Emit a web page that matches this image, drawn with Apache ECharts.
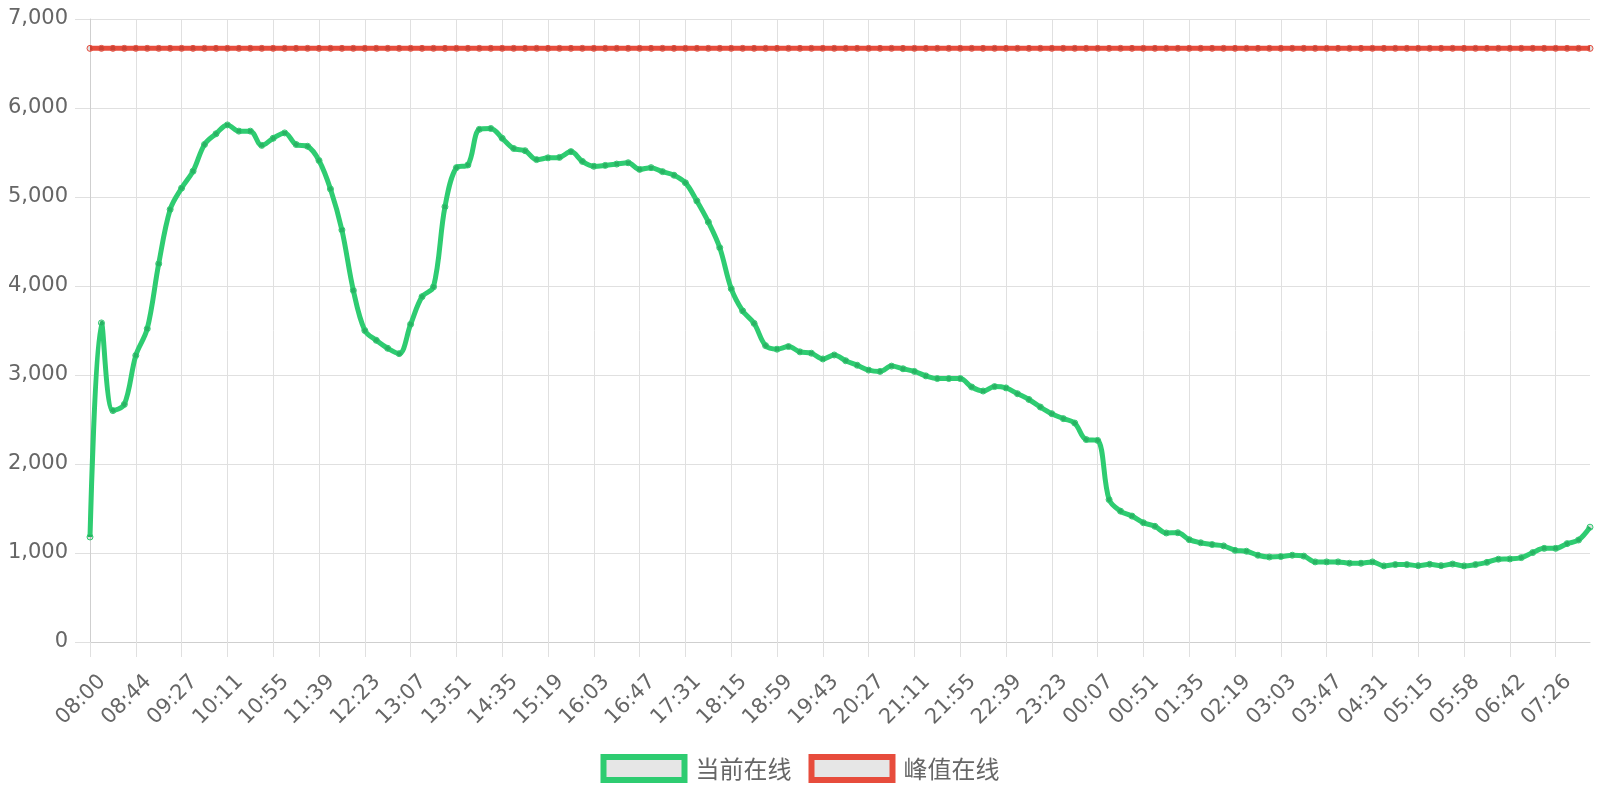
<!DOCTYPE html>
<html>
<head>
<meta charset="utf-8">
<script src="https://cdn.jsdelivr.net/npm/echarts@6/dist/echarts.min.js"></script>
<style>
html,body{margin:0;padding:0;background:#fff;}
#chart{width:1600px;height:800px;}
</style>
</head>
<body>
<div id="chart"></div>
<script>
const categories = [
'08:00','08:11','08:22','08:33','08:44','08:55','09:06','09:16','09:27','09:38','09:49','10:00',
'10:11','10:22','10:33','10:44','10:55','11:06','11:17','11:28','11:39','11:50','12:01','12:12',
'12:23','12:34','12:45','12:56','13:07','13:18','13:29','13:40','13:51','14:02','14:13','14:24',
'14:35','14:46','14:57','15:08','15:19','15:30','15:41','15:52','16:03','16:14','16:25','16:36',
'16:47','16:58','17:09','17:20','17:31','17:42','17:53','18:04','18:15','18:26','18:37','18:48',
'18:59','19:10','19:21','19:32','19:43','19:54','20:05','20:16','20:27','20:38','20:49','21:00',
'21:11','21:22','21:33','21:44','21:55','22:06','22:17','22:28','22:39','22:50','23:01','23:12',
'23:23','23:34','23:45','23:56','00:07','00:18','00:29','00:40','00:51','01:02','01:13','01:24',
'01:35','01:46','01:57','02:08','02:19','02:30','02:41','02:52','03:03','03:14','03:25','03:36',
'03:47','03:58','04:09','04:20','04:31','04:42','04:53','05:04','05:15','05:26','05:36','05:47',
'05:58','06:09','06:20','06:31','06:42','06:53','07:04','07:15','07:26','07:37','07:48','07:59'
];

const currentOnline = [
1180,3585,2600,2670,3220,3520,4250,4860,5100,5290,5590,5710,
5810,5740,5740,5580,5660,5720,5590,5570,5410,5090,4630,3950,
3500,3390,3300,3240,3570,3880,3990,4890,5330,5360,5760,5770,
5660,5545,5520,5420,5440,5445,5510,5400,5345,5355,5370,5385,
5310,5330,5285,5245,5160,4955,4720,4430,3970,3720,3580,3330,
3290,3320,3260,3245,3180,3225,3160,3110,3055,3040,3100,3070,
3040,2990,2960,2960,2960,2865,2820,2870,2855,2790,2725,2640,
2565,2510,2460,2275,2265,1600,1470,1415,1340,1300,1225,1228,
1150,1115,1095,1080,1030,1020,975,955,960,975,965,900,
900,900,885,885,900,855,870,870,858,873,858,876,
855,870,895,930,933,948,1005,1052,1052,1105,1146,1290
];

const peakOnline = [
6670,6670,6670,6670,6670,6670,6670,6670,6670,6670,6670,6670,
6670,6670,6670,6670,6670,6670,6670,6670,6670,6670,6670,6670,
6670,6670,6670,6670,6670,6670,6670,6670,6670,6670,6670,6670,
6670,6670,6670,6670,6670,6670,6670,6670,6670,6670,6670,6670,
6670,6670,6670,6670,6670,6670,6670,6670,6670,6670,6670,6670,
6670,6670,6670,6670,6670,6670,6670,6670,6670,6670,6670,6670,
6670,6670,6670,6670,6670,6670,6670,6670,6670,6670,6670,6670,
6670,6670,6670,6670,6670,6670,6670,6670,6670,6670,6670,6670,
6670,6670,6670,6670,6670,6670,6670,6670,6670,6670,6670,6670,
6670,6670,6670,6670,6670,6670,6670,6670,6670,6670,6670,6670,
6670,6670,6670,6670,6670,6670,6670,6670,6670,6670,6670,6670
];

const seriesNames = ['当前在线', '峰值在线'];
const seriesColors = ['#2ecc71', '#e74c3c'];
const yTicks = [0, 1000, 2000, 3000, 4000, 5000, 6000, 7000];

const FONT = '"DejaVu Sans", "Noto Sans CJK SC", sans-serif';
const LEGEND_FONT = '"Noto Sans CJK SC", "DejaVu Sans", sans-serif';
const GRID_COLOR = '#e0e0e0';
const AXIS_COLOR = '#cfcfcf';

function fmt(v) { return String(v).replace(/\B(?=(\d{3})+(?!\d))/g, ','); }

const chart = echarts.init(document.getElementById('chart'), null, {renderer: 'canvas'});

function mkSeries(name, data, color) {
  return {
    name: name,
    type: 'line',
    data: data,
    smooth: 0.35,
    symbol: 'circle',
    symbolSize: 6,
    showAllSymbol: true,
    lineStyle: {color: color, width: 5},
    itemStyle: {color: 'rgba(0,0,0,0.12)', borderColor: color, borderWidth: 1},
    emphasis: {disabled: true},
    animation: false
  };
}

chart.setOption({
  animation: false,
  backgroundColor: '#fff',
  grid: {left: 90, right: 10, top: 19, bottom: 158, containLabel: false},
  legend: {
    bottom: 12,
    left: 'center',
    itemWidth: 81,
    itemHeight: 23,
    itemGap: 17,
    textStyle: {fontFamily: LEGEND_FONT, fontSize: 24, color: '#666', padding: [0, 0, 0, 6]},
    data: seriesNames.map((n, i) => ({
      name: n,
      icon: 'rect',
      itemStyle: {color: '#e6e6e6', borderColor: seriesColors[i], borderWidth: 6}
    }))
  },
  xAxis: {
    type: 'category',
    data: categories,
    boundaryGap: false,
    axisLine: {show: true, lineStyle: {color: AXIS_COLOR, width: 1}},
    axisTick: {show: true, interval: 3, length: 15, lineStyle: {color: GRID_COLOR}},
    splitLine: {show: true, interval: 3, lineStyle: {color: GRID_COLOR, width: 1}},
    axisLabel: {
      interval: 3,
      rotate: 45,
      margin: 24,
      verticalAlign: 'top',
      padding: [7, 0, 0, 0],
      fontFamily: FONT,
      fontSize: 21,
      color: '#666'
    }
  },
  yAxis: {
    type: 'value',
    min: yTicks[0],
    max: yTicks[yTicks.length - 1],
    interval: 1000,
    axisLine: {show: true, lineStyle: {color: AXIS_COLOR, width: 1}},
    axisTick: {show: true, length: 15, lineStyle: {color: GRID_COLOR}},
    splitLine: {show: true, lineStyle: {color: GRID_COLOR, width: 1}},
    axisLabel: {
      margin: 22,
      fontFamily: FONT,
      fontSize: 21,
      color: '#666',
      formatter: fmt
    }
  },
  series: [
    mkSeries(seriesNames[0], currentOnline, seriesColors[0]),
    mkSeries(seriesNames[1], peakOnline, seriesColors[1])
  ]
});
</script>
</body>
</html>
